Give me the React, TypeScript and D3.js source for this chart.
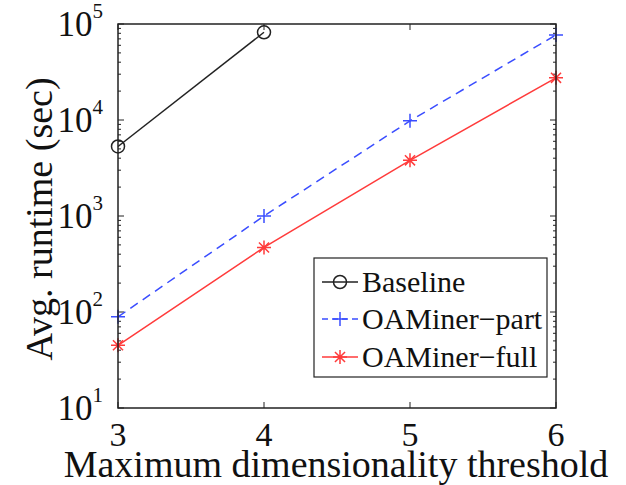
import React from 'react';
import * as d3 from 'd3';

const thresholds = [3, 4, 5, 6];
const baseline = [5300, 82000];
const oaPart = [89, 1000, 9800, 77000];
const oaFull = [45, 470, 3800, 27500];
const seriesNames = ['Baseline', 'OAMiner\u2212part', 'OAMiner\u2212full'];
const yDecades = [1, 2, 3, 4, 5];

const W = 626, H = 485;
const box = { left: 118, right: 556, top: 24, bottom: 408 };
const font = '"Liberation Serif", "Times New Roman", serif';

function Marker({ kind, x, y, color }: { kind: string; x: number; y: number; color: string }) {
  if (kind === 'o') {
    return <circle cx={x} cy={y} r={6.5} fill="none" stroke={color} strokeWidth={1.5} />;
  }
  const s = 7;
  if (kind === '+') {
    return (
      <path d={`M${x - s},${y}H${x + s}M${x},${y - s}V${y + s}`} stroke={color} strokeWidth={1.5} />
    );
  }
  const d = s * 0.72;
  return (
    <path
      d={`M${x - s},${y}H${x + s}M${x},${y - s}V${y + s}M${x - d},${y - d}L${x + d},${y + d}M${x - d},${y + d}L${x + d},${y - d}`}
      stroke={color}
      strokeWidth={1.5}
    />
  );
}

export default function App() {
  const x = d3.scaleLinear().domain([3, 6]).range([box.left, box.right]);
  const y = d3.scaleLog().domain([10, 1e5]).range([box.bottom, box.top]);
  const line = d3
    .line<[number, number]>()
    .x(d => x(d[0]))
    .y(d => y(d[1]));

  const series = [
    { name: seriesNames[0], vals: baseline, color: '#222', dash: undefined, marker: 'o' },
    { name: seriesNames[1], vals: oaPart, color: '#3a4dff', dash: '9,6', marker: '+' },
    { name: seriesNames[2], vals: oaFull, color: '#ff3b3b', dash: undefined, marker: '*' },
  ];

  // minor log ticks
  const minor: number[] = [];
  for (let e = 1; e < 5; e++) for (let m = 2; m <= 9; m++) minor.push(m * Math.pow(10, e));

  const tickColor = '#222';
  const majorLen = 6, minorLen = 3;

  const leg = { left: 314, top: 258, right: 547, bottom: 377 };
  const legRows = [282, 319, 357];

  return (
    <svg width={W} height={H} style={{ position: 'absolute', left: 0, top: 0, background: '#fff' }}>
      <rect width={W} height={H} fill="#fff" />
      {/* ticks */}
      <g stroke={tickColor} strokeWidth={1}>
        {thresholds.map(t => (
          <g key={'xt' + t}>
            <line x1={x(t)} x2={x(t)} y1={box.bottom} y2={box.bottom - majorLen} />
            <line x1={x(t)} x2={x(t)} y1={box.top} y2={box.top + majorLen} />
          </g>
        ))}
        {yDecades.map(e => (
          <g key={'yt' + e}>
            <line x1={box.left} x2={box.left + majorLen} y1={y(Math.pow(10, e))} y2={y(Math.pow(10, e))} />
            <line x1={box.right} x2={box.right - majorLen} y1={y(Math.pow(10, e))} y2={y(Math.pow(10, e))} />
          </g>
        ))}
        {minor.map(v => (
          <g key={'m' + v}>
            <line x1={box.left} x2={box.left + minorLen} y1={y(v)} y2={y(v)} />
            <line x1={box.right} x2={box.right - minorLen} y1={y(v)} y2={y(v)} />
          </g>
        ))}
      </g>
      {/* series */}
      {series.map(s => {
        const pts = s.vals.map((v, i) => [thresholds[i], v] as [number, number]);
        return (
          <g key={s.name}>
            <path d={line(pts) || ''} fill="none" stroke={s.color} strokeWidth={1.5} strokeDasharray={s.dash} />
            {pts.map((p, i) => (
              <Marker key={i} kind={s.marker} x={x(p[0])} y={y(p[1])} color={s.color} />
            ))}
          </g>
        );
      })}
      {/* axes box */}
      <rect
        x={box.left}
        y={box.top}
        width={box.right - box.left}
        height={box.bottom - box.top}
        fill="none"
        stroke="#222"
        strokeWidth={1.5}
      />
      {/* tick labels */}
      <g fontFamily={font} fill="#111">
        {thresholds.map(t => (
          <text key={'xl' + t} x={x(t)} y={446} fontSize={34} textAnchor="middle">
            {t}
          </text>
        ))}
        {yDecades.map(e => (
          <text key={'yl' + e} x={103} y={y(Math.pow(10, e)) + 12} fontSize={35} textAnchor="end">
            10
            <tspan fontSize={21} dy={-18}>
              {e}
            </tspan>
          </text>
        ))}
      </g>
      {/* axis labels */}
      <text x={336} y={477} fontFamily={font} fontSize={38} textAnchor="middle" fill="#111">
        Maximum dimensionality threshold
      </text>
      <text
        transform={`translate(52,${(box.top + box.bottom) / 2 + 3}) rotate(-90)`}
        fontFamily={font}
        fontSize={38}
        textAnchor="middle"
        fill="#111"
      >
        Avg. runtime (sec)
      </text>
      {/* legend */}
      <rect
        x={leg.left}
        y={leg.top}
        width={leg.right - leg.left}
        height={leg.bottom - leg.top}
        fill="#fff"
        stroke="#222"
        strokeWidth={1.2}
      />
      {series.map((s, i) => (
        <g key={'lg' + s.name}>
          <line x1={322} x2={358} y1={legRows[i]} y2={legRows[i]} stroke={s.color} strokeWidth={1.5} strokeDasharray={s.marker === '+' ? '6,4' : undefined} />
          <Marker kind={s.marker} x={340} y={legRows[i]} color={s.color} />
          <text x={362} y={legRows[i] + 10} fontFamily={font} fontSize={30} fill="#111">
            {s.name}
          </text>
        </g>
      ))}
    </svg>
  );
}
